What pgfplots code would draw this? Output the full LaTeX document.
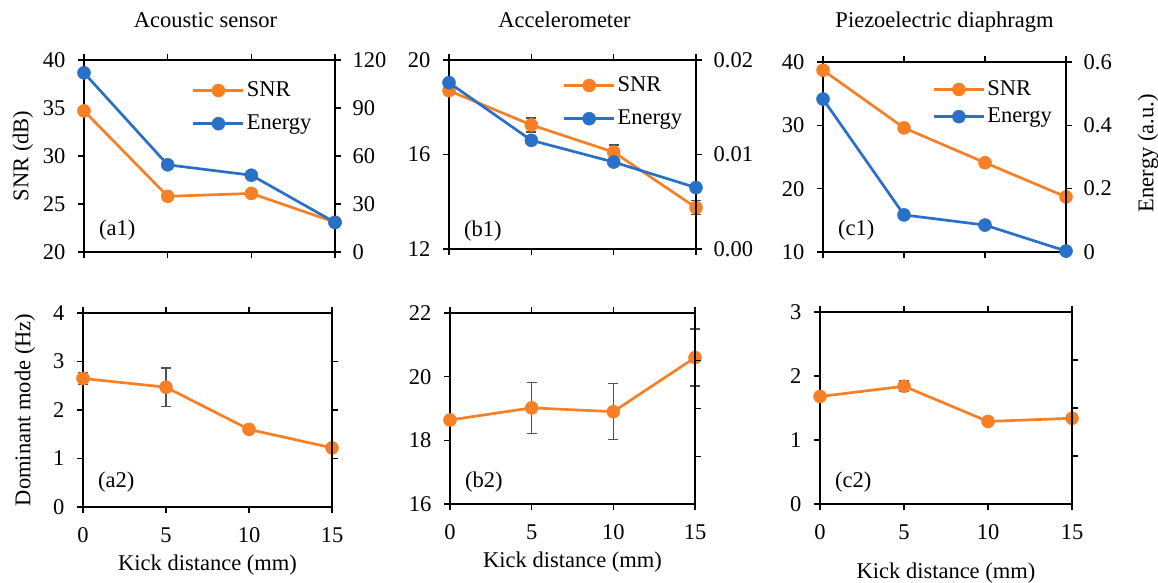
\documentclass[border=0pt]{standalone}
\usepackage{fontspec}
\setmainfont{Liberation Serif}
\usepackage{pgfplots}
\pgfplotsset{compat=1.18}
\definecolor{myorange}{RGB}{247,128,38}
\definecolor{myblue}{RGB}{40,112,200}
\definecolor{errgray}{RGB}{80,80,80}
\tikzset{plabel/.style={anchor=west, inner sep=0pt, xshift=15bp, yshift=22bp}}
\pgfplotsset{
  base/.style={scale only axis, clip=false, xmin=0, xmax=15, xtick={0,5,10,15},
    axis line style={line width=2.5bp, black},
    every tick/.style={line width=1.4bp, black},
    tick align=outside, major tick length=6bp,
    scaled y ticks=false,
    /pgf/number format/assume math mode=true,
    title style={at={(axis description cs:0.5,1)}, anchor=center, yshift=34bp},
    xlabel style={at={(axis description cs:0.5,0)}, anchor=center, yshift=-58bp},
    yticklabel style={xshift=-5bp},
    xticklabel style={yshift=-7bp},
  },
  rightax/.style={scale only axis, clip=false, xmin=0, xmax=15, hide x axis,
    axis y line*=right,
    axis line style={line width=2.5bp, black},
    every tick/.style={line width=1.4bp, black},
    tick align=outside, major tick length=6bp,
    scaled y ticks=false,
    /pgf/number format/assume math mode=true,
    yticklabel style={xshift=4bp},
  },
  snr/.style={color=myorange, line width=2.7bp, mark=*, mark size=6.5bp,
    mark options={solid, fill=myorange, draw=myorange, line width=0.5bp}},
  en/.style={color=myblue, line width=2.7bp, mark=*, mark size=6.5bp,
    mark options={solid, fill=myblue, draw=myblue, line width=0.5bp}},
  errb/.style={error bars/.cd, y dir=both, y explicit,
    error bar style={line width=1.5bp, errgray},
    error mark options={rotate=90, mark size=5bp, line width=1.5bp, errgray}},
  leg/.style={legend style={draw=none, fill=none, inner sep=0pt, row sep=11bp,
      at={(axis description cs:0.43,0.90)}, anchor=north west,
      font=\fontsize{22.5bp}{26bp}\selectfont},
    legend cell align=left,
    legend image code/.code={\draw[mark repeat=2,mark phase=2,##1] plot coordinates {(0bp,0bp)(25bp,0bp)(50bp,0bp)};}},
}
\begin{document}
\fontsize{22.5bp}{26bp}\selectfont
\begin{tikzpicture}
\useasboundingbox (0,0) rectangle (1158bp,-583bp);

% ---------- (a1) ----------
\begin{axis}[base, at={(84bp,-60bp)}, anchor=north west, width=251bp, height=192bp,
  ymin=20, ymax=40, ytick={20,25,30,35,40}, yticklabels={20,25,30,35,40},
  ytick pos=left, xticklabels={},
  title={Acoustic sensor}, title style={xshift=-4bp},
  ylabel={SNR (dB)}, ylabel style={at={(axis description cs:-0.243,0.5)}, anchor=center}]
\addplot[snr] coordinates {(0,34.7) (5,25.8) (10,26.1) (15,23.1)};
\node[plabel] at (rel axis cs:0,0) {(a1)};
\end{axis}
\begin{axis}[rightax, leg, at={(84bp,-60bp)}, anchor=north west, width=251bp, height=192bp,
  ymin=0, ymax=120, ytick={0,30,60,90,120}, yticklabels={0,30,60,90,120}]
\addlegendimage{snr}\addlegendentry{SNR}
\addplot[en] coordinates {(0,112) (5,54.5) (10,48) (15,18.5)};
\addlegendentry{Energy}
\end{axis}

% ---------- (b1) ----------
\begin{axis}[base, at={(449bp,-60bp)}, anchor=north west, width=247bp, height=189bp,
  ymin=12, ymax=20, ytick={12,16,20}, yticklabels={12,16,20},
  ytick pos=left, xticklabels={},
  title={Accelerometer}, title style={xshift=-8bp}]
\addplot[snr, errb] coordinates {(0,18.7) +- (0,0.05) (5,17.25) +- (0,0.3) (10,16.1) +- (0,0.3) (15,13.75) +- (0,0.3)};
\node[plabel, yshift=-4bp] at (rel axis cs:0,0) {(b1)};
\end{axis}
\begin{axis}[rightax, leg, at={(449bp,-60bp)}, anchor=north west, width=247bp, height=189bp,
  ymin=0, ymax=0.02, ytick={0,0.01,0.02}, yticklabels={0.00,0.01,0.02},
  legend style={at={(axis description cs:0.46,0.925)}}]
\addlegendimage{snr}\addlegendentry{SNR}
\addplot[en] coordinates {(0,0.0176) (5,0.0115) (10,0.0092) (15,0.0065)};
\addlegendentry{Energy}
\end{axis}

% ---------- (c1) ----------
\begin{axis}[base, at={(823bp,-62bp)}, anchor=north west, width=243bp, height=190bp,
  ymin=10, ymax=40, ytick={10,20,30,40}, yticklabels={10,20,30,40},
  ytick pos=left, xticklabels={},
  title={Piezoelectric diaphragm}]
\addplot[snr] coordinates {(0,38.7) (5,29.6) (10,24.1) (15,18.7)};
\node[plabel] at (rel axis cs:0,0) {(c1)};
\end{axis}
\begin{axis}[rightax, leg, at={(823bp,-62bp)}, anchor=north west, width=243bp, height=190bp,
  ymin=0, ymax=0.6, ytick={0,0.2,0.4,0.6}, yticklabels={0,0.2,0.4,0.6},
  legend style={at={(axis description cs:0.45,0.915)}, row sep=5bp},
  ylabel={Energy (a.u.)}, ylabel style={at={(axis description cs:1.337,0.52)}, anchor=center}]
\addlegendimage{snr}\addlegendentry{SNR}
\addplot[en] coordinates {(0,0.483) (5,0.117) (10,0.085) (15,0.003)};
\addlegendentry{Energy}
\end{axis}

% ---------- (a2) ----------
\begin{axis}[base, at={(83bp,-313bp)}, anchor=north west, width=249bp, height=194bp,
  ymin=0, ymax=4, ytick={0,1,2,3,4}, yticklabels={0,1,2,3,4}, ytick pos=left,
  xticklabels={0,5,10,15},
  xlabel={Kick distance (mm)},
  ylabel={Dominant mode (Hz)}, ylabel style={at={(axis description cs:-0.233,0.5)}, anchor=center}]
\addplot[snr, errb] coordinates {(0,2.65) +- (0,0.12) (5,2.47) +- (0,0.4) (10,1.6) +- (0,0.04) (15,1.22) +- (0,0.04)};
\node[plabel, yshift=3bp] at (rel axis cs:0,0) {(a2)};
\end{axis}
\begin{axis}[rightax, at={(83bp,-313bp)}, anchor=north west, width=249bp, height=194bp,
  ymin=0, ymax=4, ytick={1,2,3}, yticklabels={}]
\end{axis}

% ---------- (b2) ----------
\begin{axis}[base, at={(450bp,-313bp)}, anchor=north west, width=245bp, height=191bp,
  ymin=16, ymax=22, ytick={16,18,20,22}, yticklabels={16,18,20,22}, ytick pos=left,
  xticklabels={0,5,10,15},
  xlabel={Kick distance (mm)}]
\addplot[snr, errb] coordinates {(0,18.64) +- (0,0.05) (5,19.02) +- (0,0.8) (10,18.9) +- (0,0.88) (15,20.6) +- (0,0.9)};
\node[plabel] at (rel axis cs:0,0) {(b2)};
\end{axis}
\begin{axis}[rightax, at={(450bp,-313bp)}, anchor=north west, width=245bp, height=191bp,
  ymin=16, ymax=22, ytick={17.5,19,20.5}, yticklabels={}]
\end{axis}

% ---------- (c2) ----------
\begin{axis}[base, at={(820bp,-312bp)}, anchor=north west, width=252bp, height=192bp,
  ymin=0, ymax=3, ytick={0,1,2,3}, yticklabels={0,1,2,3}, ytick pos=left,
  xticklabels={0,5,10,15},
  xlabel={Kick distance (mm)}, xlabel style={yshift=-11bp}]
\addplot[snr, errb] coordinates {(0,1.68) +- (0,0.03) (5,1.84) +- (0,0.08) (10,1.29) +- (0,0.03) (15,1.34) +- (0,0.03)};
\node[plabel] at (rel axis cs:0,0) {(c2)};
\end{axis}
\begin{axis}[rightax, at={(820bp,-312bp)}, anchor=north west, width=252bp, height=192bp,
  ymin=0, ymax=3, ytick={0.75,1.5,2.25}, yticklabels={}]
\end{axis}

\end{tikzpicture}
\end{document}
